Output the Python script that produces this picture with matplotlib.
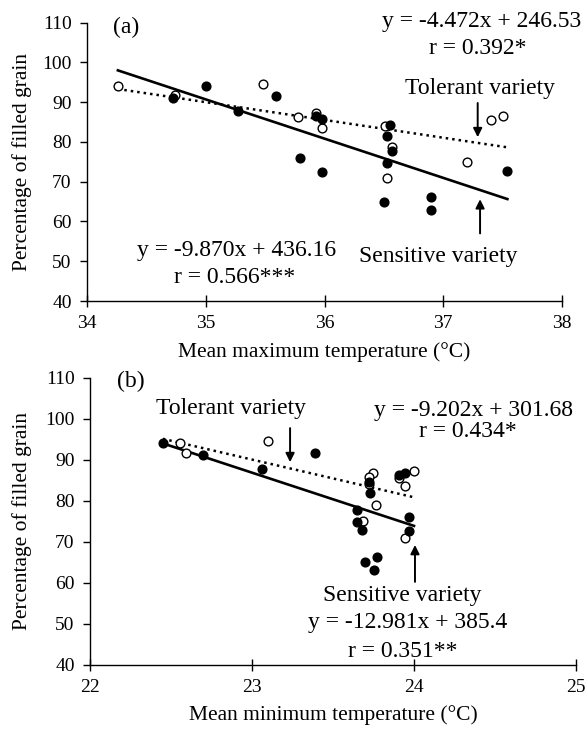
import matplotlib
matplotlib.use('Agg')
import matplotlib.pyplot as plt
import numpy as np

plt.rcParams['font.family'] = ['Liberation Serif', 'DejaVu Serif']

# Panel (a): mean maximum temperature
tmax_tol = [34.26, 34.74, 35.48, 35.78, 35.93, 35.98, 36.51, 36.57, 37.20, 37.40, 37.50, 36.53]
fg_tol_a = [94.1, 91.8, 94.6, 86.2, 87.4, 83.6, 84.1, 78.8, 74.9, 85.5, 86.6, 71.0]
tmax_sen = [34.72, 35.00, 35.27, 35.59, 35.79, 35.93, 35.98, 35.98, 36.55, 36.53,
            36.53, 36.57, 37.54, 36.50, 36.90, 36.90]
fg_sen_a = [91.0, 94.2, 87.7, 91.5, 76.0, 86.5, 85.7, 72.5, 84.2, 81.6,
            74.6, 77.8, 72.7, 64.9, 66.2, 63.0]

# Panel (b): mean minimum temperature
tmin_tol = [22.556, 22.593, 23.10, 23.749, 23.72, 24.00, 23.944, 23.765, 23.687, 23.944, 23.72, 23.91]
fg_tol_b = [94.15, 91.7, 94.6, 86.7, 85.85, 87.3, 83.6, 78.95, 75.0, 70.8, 84.1, 85.5]
tmin_sen = [22.45, 22.70, 23.06, 23.39, 23.722, 23.73, 23.646, 23.646, 23.677, 23.91,
            23.944, 23.97, 23.97, 23.70, 23.77, 23.75]
fg_sen_b = [94.15, 91.1, 87.7, 91.55, 84.6, 81.8, 77.7, 74.9, 72.85, 86.3,
            86.7, 76.1, 72.6, 65.1, 66.3, 63.1]

# regression lines (slope, intercept) as printed
fit_a = {'tol': (-4.472, 246.53), 'sen': (-9.870, 436.16)}
fit_b = {'tol': (-9.202, 301.68), 'sen': (-12.981, 385.4)}

W, H = 587, 730
fig = plt.figure(figsize=(W / 100, H / 100), dpi=100)
ax_a = fig.add_axes([87 / W, 1 - 301 / H, (562 - 87) / W, (301 - 22.7) / H])
ax_b = fig.add_axes([90 / W, 1 - 664.7 / H, (576 - 90) / W, (664.7 - 377.7) / H])

tick_fs = 14
lab_fs = 15.5
txt_fs = 17


def draw_panel(ax, x_tol, y_tol, x_sen, y_sen, fit, xlim, xlabel, ylab_x):
    xall = np.array(x_tol + x_sen)
    xx = np.array([xall.min(), xall.max()])
    m, b = fit['tol']
    ax.plot(xx, m * xx + b, color='black', lw=1.8, linestyle=(0, (1, 1.6)), zorder=2)
    m, b = fit['sen']
    ax.plot(xx, m * xx + b, color='black', lw=1.9, zorder=2)
    ax.plot(x_tol, y_tol, 'o', ms=6.3, mfc='white', mec='black', mew=1.0, zorder=3)
    ax.plot(x_sen, y_sen, 'o', ms=6.3, mfc='black', mec='black', zorder=4)
    ax.set_xlim(*xlim)
    ax.set_ylim(40, 110)
    ax.set_xticks(np.arange(xlim[0], xlim[1] + 1))
    ax.set_yticks(np.arange(40, 111, 10))
    for s in ['top', 'right']:
        ax.spines[s].set_visible(False)
    for s in ['left', 'bottom']:
        ax.spines[s].set_linewidth(1.0)
    ax.tick_params(axis='x', direction='inout', length=8, width=1, labelsize=tick_fs, pad=6)
    ax.tick_params(axis='y', direction='out', length=5, width=1, labelsize=tick_fs, pad=6)
    ax.set_xlabel(xlabel, fontsize=lab_fs, labelpad=7)
    ax.set_ylabel('Percentage of filled grain', fontsize=lab_fs)
    ax.yaxis.set_label_coords(ylab_x, 0.5)


def arrow(ax, x, y0, y1):
    ax.annotate('', xy=(x, y1), xytext=(x, y0),
                arrowprops=dict(arrowstyle='-|>', lw=1.4, color='black', mutation_scale=13,
                                shrinkA=0, shrinkB=0))


draw_panel(ax_a, tmax_tol, fg_tol_a, tmax_sen, fg_sen_a, fit_a, (34, 38),
           'Mean maximum temperature (°C)', -0.116)
draw_panel(ax_b, tmin_tol, fg_tol_b, tmin_sen, fg_sen_b, fit_b, (22, 25),
           'Mean minimum temperature (°C)', -0.119)

kw = dict(ha='center', va='center', fontsize=txt_fs, clip_on=False)
ax_a.text(34.33, 108.9, '(a)', **kw)
ax_a.text(37.32, 110.2, 'y = -4.472x + 246.53', **kw)
ax_a.text(37.29, 103.6, 'r = 0.392*', **kw)
ax_a.text(37.31, 93.5, 'Tolerant variety', **kw)
arrow(ax_a, 37.29, 89.8, 81.2)
arrow(ax_a, 37.31, 57.0, 65.6)
ax_a.text(36.96, 51.2, 'Sensitive variety', **kw)
ax_a.text(35.26, 52.7, 'y = -9.870x + 436.16', **kw)
ax_a.text(35.24, 46.0, 'r = 0.566***', **kw)

ax_b.text(22.25, 109.2, '(b)', **kw)
ax_b.text(22.87, 102.6, 'Tolerant variety', **kw)
arrow(ax_b, 23.235, 97.7, 89.4)
ax_b.text(24.37, 102.1, 'y = -9.202x + 301.68', **kw)
ax_b.text(24.33, 96.8, 'r = 0.434*', **kw)
arrow(ax_b, 24.006, 60.2, 69.2)
ax_b.text(23.93, 57.0, 'Sensitive variety', **kw)
ax_b.text(23.96, 50.2, 'y = -12.981x + 385.4', **kw)
ax_b.text(23.93, 43.2, 'r = 0.351**', **kw)

fig.savefig('out.png', dpi=100)
